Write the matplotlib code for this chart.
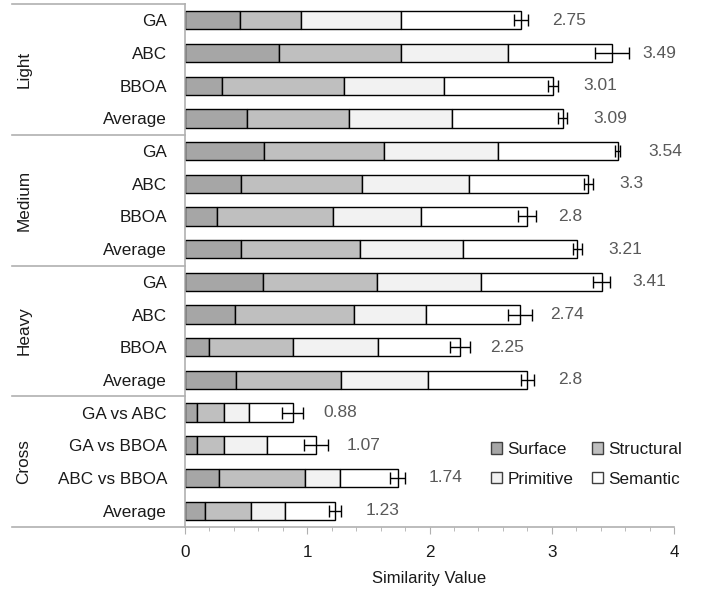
import matplotlib
matplotlib.use("Agg")
import matplotlib.pyplot as plt
import numpy as np
from matplotlib.patches import Patch
import matplotlib.transforms as mtransforms

plt.rcParams['font.family'] = ['Liberation Sans', 'DejaVu Sans']

groups = ["Light", "Medium", "Heavy", "Cross"]
categories = ["GA", "ABC", "BBOA", "Average",
              "GA", "ABC", "BBOA", "Average",
              "GA", "ABC", "BBOA", "Average",
              "GA vs ABC", "GA vs BBOA", "ABC vs BBOA", "Average"]
surface = [0.45, 0.77, 0.30, 0.51, 0.65, 0.46, 0.26, 0.46,
           0.64, 0.41, 0.20, 0.42, 0.10, 0.10, 0.28, 0.16]
structural = [0.50, 1.00, 1.00, 0.83, 0.98, 0.99, 0.95, 0.97,
              0.93, 0.97, 0.68, 0.86, 0.22, 0.22, 0.70, 0.38]
primitive = [0.82, 0.87, 0.82, 0.84, 0.93, 0.87, 0.72, 0.84,
             0.85, 0.59, 0.70, 0.71, 0.20, 0.35, 0.29, 0.28]
semantic = [0.98, 0.85, 0.89, 0.91, 0.98, 0.98, 0.87, 0.94,
            0.99, 0.77, 0.67, 0.81, 0.36, 0.40, 0.47, 0.41]
totals = [2.75, 3.49, 3.01, 3.09, 3.54, 3.30, 2.80, 3.21,
          3.41, 2.74, 2.25, 2.80, 0.88, 1.07, 1.74, 1.23]
total_labels = ["2.75", "3.49", "3.01", "3.09", "3.54", "3.3", "2.8", "3.21",
                "3.41", "2.74", "2.25", "2.8", "0.88", "1.07", "1.74", "1.23"]
errors = [0.055, 0.14, 0.04, 0.035, 0.02, 0.035, 0.075, 0.04,
          0.07, 0.10, 0.08, 0.055, 0.085, 0.10, 0.06, 0.048]

series = [("Surface", surface, "#a6a6a6"),
          ("Structural", structural, "#bfbfbf"),
          ("Primitive", primitive, "#f2f2f2"),
          ("Semantic", semantic, "#ffffff")]

W, H = 702, 599
fig = plt.figure(figsize=(W / 100, H / 100), dpi=100)
ax = fig.add_axes([185 / W, 1 - 527 / H, (674 - 185) / W, (527 - 4) / H])

y = np.arange(len(categories))
left = np.zeros(len(categories))
for name, vals, col in series:
    vals = np.array(vals)
    ax.barh(y, vals, left=left, height=0.56, color=col, edgecolor="black",
            linewidth=1.0, label=name, zorder=2)
    left = left + vals

ax.errorbar(totals, y, xerr=errors, fmt="none", ecolor="black", elinewidth=1.0,
            capsize=4.2, capthick=1.0, zorder=3)

for yi, t, lab in zip(y, totals, total_labels):
    ax.annotate(lab, (t, yi), xytext=(22, 0), textcoords="offset points",
                ha="left", va="center", fontsize=12.5, color="#595959")

ax.set_ylim(len(categories) - 0.5, -0.5)
ax.set_xlim(0, 4)
ax.set_yticks(y)
ax.set_yticklabels(categories, fontsize=12.3, color="#1a1a1a")
ax.tick_params(axis="y", length=0, pad=13)
ax.set_xticks([0, 1, 2, 3, 4])
ax.set_xticks(np.arange(0, 4.01, 0.2), minor=True)
ax.tick_params(axis="x", which="major", length=5, color="#b0b0b0", labelsize=12.3,
               labelcolor="#1a1a1a", pad=8)
ax.tick_params(axis="x", which="minor", length=3, color="#b0b0b0")
ax.set_xlabel("Similarity Value", fontsize=12, color="#1a1a1a", labelpad=8)

for s in ["top", "right"]:
    ax.spines[s].set_visible(False)
for s in ["left", "bottom"]:
    ax.spines[s].set_color("#b0b0b0")
    ax.spines[s].set_linewidth(1.2)

# group separators and labels
trans = mtransforms.blended_transform_factory(ax.transAxes, ax.transData)
x_left = (12 - 185) / (674 - 185)
n_per = 4
for gi, g in enumerate(groups):
    top = gi * n_per - 0.5
    ax.plot([x_left, 0], [top, top], transform=trans, color="#b0b0b0",
            linewidth=1.2, clip_on=False)
    ax.text((24 - 185) / (674 - 185), gi * n_per + 1.5, g, transform=trans,
            rotation=90, ha="center", va="center", fontsize=12.3, color="#1a1a1a")
bottom = len(categories) - 0.5
ax.plot([x_left, 0], [bottom, bottom], transform=trans, color="#b0b0b0",
        linewidth=1.2, clip_on=False)

handle_map = {n: Patch(facecolor=c, edgecolor="#404040", linewidth=1.0, label=n)
              for n, _, c in series}
order = ["Surface", "Primitive", "Structural", "Semantic"]
handles = [handle_map[n] for n in order]
leg = ax.legend(handles=handles, ncol=2, loc="upper left",
                bbox_to_anchor=((491 - 185) / (674 - 185), 1 - (442 - 4) / (527 - 4)),
                frameon=False, fontsize=12.3, handlelength=0.65, handleheight=0.65,
                handletextpad=0.3, columnspacing=1.1, labelspacing=0.85,
                borderaxespad=0, borderpad=0)
for t in leg.get_texts():
    t.set_color("#1a1a1a")

fig.savefig("out.png", dpi=100)
